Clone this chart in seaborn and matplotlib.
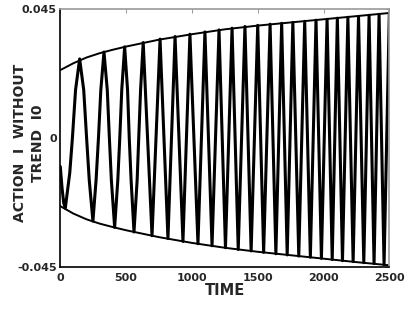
import pandas as pd
import seaborn as sns
import matplotlib.pyplot as plt

# oscillation (time, value); first cycles with a few
# extra points along the flanks, later cycles only at the turning points
t_osc = [0, 13, 26, 38, 72, 92, 116, 147, 178, 200, 220, 248, 272, 290, 308,
         332, 357, 373, 388, 413, 437, 452, 467, 489, 511, 524, 538, 560, 584,
         596, 610, 630, 697, 758, 818, 872, 932, 985, 1046, 1099, 1153, 1206, 1255,
         1305, 1352, 1403, 1450, 1500, 1545, 1594, 1638, 1682, 1724, 1767, 1812,
         1857, 1900, 1943, 1984, 2027, 2066, 2105, 2144, 2185, 2225, 2266, 2306,
         2346, 2384, 2422, 2460, 2500]
v_osc = [-0.0099, -0.0172, -0.0226, -0.0244,
         -0.0121, 0.0, 0.0168, 0.0276,
         0.0168, 0.0, -0.0146, -0.0289,
         -0.0146, 0.0, 0.0168, 0.0300,
         0.0168, 0.0, -0.0146, -0.0311,
         -0.0146, 0.0, 0.0168, 0.0318,
         0.0168, 0.0, -0.0146, -0.0327,
         -0.0146, 0.0, 0.0168, 0.0333,
         -0.0340, 0.0345, -0.0350, 0.0354, -0.0360,
         0.0362, -0.0368, 0.0370, -0.0375, 0.0377, -0.0382, 0.0383, -0.0388,
         0.0389, -0.0393, 0.0393, -0.0398, 0.0397, -0.0403, 0.0400, -0.0407,
         0.0403, -0.0411, 0.0407, -0.0415, 0.0411, -0.0419, 0.0414, -0.0423,
         0.0418, -0.0427, 0.0421, -0.0430, 0.0424, -0.0434, 0.0428, -0.0437,
         0.0431, -0.0441, 0.0436]

# envelope curves
t_env = [0, 100, 200, 300, 400, 500, 625, 750, 1000, 1250, 1500, 1750, 2000, 2250, 2500]
upper = [0.0237, 0.0261, 0.0281, 0.0296, 0.0308, 0.0319, 0.0331, 0.0343, 0.0362,
         0.0379, 0.0392, 0.0403, 0.0414, 0.0425, 0.0436]
lower = [-0.0237, -0.0263, -0.0283, -0.0298, -0.0310, -0.0321, -0.0333, -0.0345,
         -0.0365, -0.0382, -0.0396, -0.0408, -0.0420, -0.0432, -0.0443]

yticks = [-0.045, 0, 0.045]
ytick_labels = ["-0.045", "0", "0.045"]
xticks = [0, 500, 1000, 1500, 2000, 2500]

sns.set_style("white")
plt.rcParams['font.family'] = ['DejaVu Sans']

fig = plt.figure(figsize=(4.09, 3.09), dpi=100)
ax = fig.add_axes([0.1474, 0.135, 0.8045, 0.836])

osc = pd.DataFrame({"t": t_osc, "v": v_osc})
env = pd.DataFrame({"t": t_env, "up": upper, "lo": lower})

sns.lineplot(data=osc, x="t", y="v", ax=ax, color="black", lw=2.2,
             estimator=None, sort=False)
sns.lineplot(data=env, x="t", y="up", ax=ax, color="black", lw=1.4, estimator=None)
sns.lineplot(data=env, x="t", y="lo", ax=ax, color="black", lw=1.4, estimator=None)

ax.set_xlim(0, 2500)
ax.set_ylim(-0.045, 0.045)
ax.set_xticks(xticks)
ax.set_xticklabels([str(x) for x in xticks], fontsize=8, fontweight="bold")
ax.set_yticks(yticks)
ax.set_yticklabels(ytick_labels, fontsize=8, fontweight="bold")
ax.tick_params(direction="in", length=3, width=0.6, color="#888888",
               top=True, right=True, pad=2.5)
ax.tick_params(axis="x", pad=4)

for s in ["left", "bottom"]:
    ax.spines[s].set_color("black")
    ax.spines[s].set_linewidth(1.2)
for s in ["top", "right"]:
    ax.spines[s].set_color("#999999")
    ax.spines[s].set_linewidth(1.2)

ax.set_xlabel("TIME", fontsize=10.5, fontweight="bold", labelpad=0)
ax.set_ylabel("ACTION  I  WITHOUT\nTREND  I0", fontsize=10, fontweight="bold",
              linespacing=1.4)
ax.yaxis.set_label_coords(-0.045, 0.48)

fig.savefig("out.png", dpi=100)
